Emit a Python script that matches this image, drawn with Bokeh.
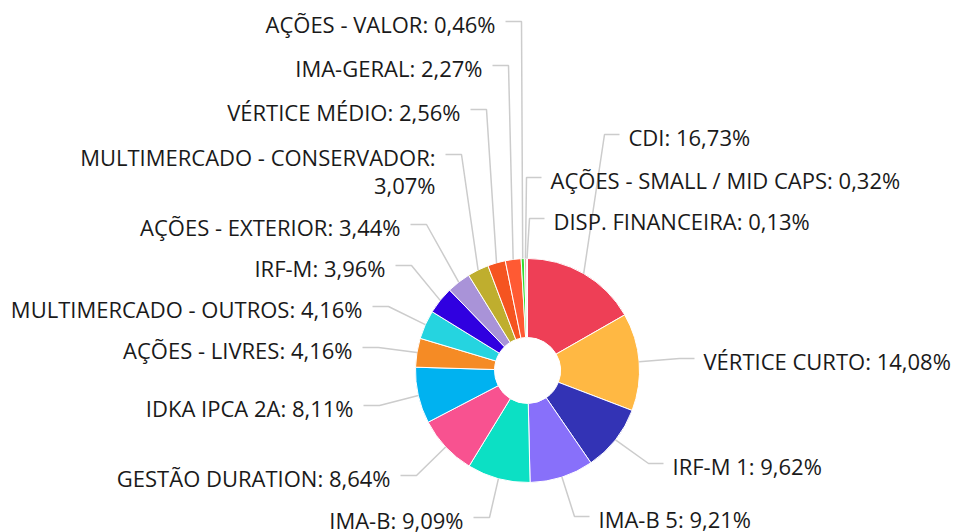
import math
from bokeh.plotting import figure
from bokeh.models import Range1d, ColumnDataSource
from bokeh.core.properties import value
from bokeh.embed import file_html
from bokeh.resources import INLINE

# ---------------- data ----------------
categories = [
    "CDI", "VÉRTICE CURTO", "IRF-M 1", "IMA-B 5", "IMA-B", "GESTÃO DURATION",
    "IDKA IPCA 2A", "AÇÕES - LIVRES", "MULTIMERCADO - OUTROS", "IRF-M",
    "AÇÕES - EXTERIOR", "MULTIMERCADO - CONSERVADOR", "VÉRTICE MÉDIO",
    "IMA-GERAL", "AÇÕES - VALOR", "AÇÕES - SMALL / MID CAPS", "DISP. FINANCEIRA",
]
shares = [16.73, 14.08, 9.62, 9.21, 9.09, 8.64, 8.11, 4.16, 4.16, 3.96,
          3.44, 3.07, 2.56, 2.27, 0.46, 0.32, 0.13]
colors = ["#EE3F56", "#FFB843", "#3333B5", "#8870FA", "#0CE0C4", "#F85290",
          "#00B2F0", "#F58B25", "#25D4E0", "#3000E0", "#A993D8", "#BFAE2E",
          "#F55420", "#FF5A33", "#33DD33", "#E0B0B0", "#C8C8C8"]

# ---------------- layout (screen px) ----------------
W, H = 954, 532
CX, CY = 527, 370
R_OUT, R_IN = 112, 33
FONT_PX = 22
LINE_GAP = 28
# label anchor: (side, x of text edge, y of connector)
# side 'r' = text starts at x, 'l' = text ends at x
label_pos = [
    ("r", 628, 134), ("r", 703, 358), ("r", 672, 463), ("r", 598, 516),
    ("l", 463, 517), ("l", 390, 475), ("l", 353, 405), ("l", 352, 347),
    ("l", 362, 306), ("l", 385, 265), ("l", 400, 224), ("l", 435, 154),
    ("l", 460, 109), ("l", 482, 65), ("l", 495, 21), ("r", 550, 177),
    ("r", 553, 218),
]
wrap = {"MULTIMERCADO - CONSERVADOR"}


def sy(y):
    return H - y


def pct(v):
    return f"{v:.2f}%".replace(".", ",")


p = figure(width=W, height=H, output_backend="svg", toolbar_location=None,
           x_range=Range1d(0, W), y_range=Range1d(0, H),
           min_border=0, outline_line_color=None)
p.axis.visible = False
p.grid.visible = False

total = sum(shares)
starts, ends, mids = [], [], []
cum = 0.0
for s in shares:
    a0 = cum / total
    cum += s
    a1 = cum / total
    starts.append(math.pi / 2 - 2 * math.pi * a0)
    ends.append(math.pi / 2 - 2 * math.pi * a1)
    mids.append((a0 + a1) / 2)

src = ColumnDataSource(dict(start=starts, end=ends, color=colors))
p.annular_wedge(x=CX, y=sy(CY), inner_radius=R_IN, outer_radius=R_OUT,
                start_angle="start", end_angle="end", direction="clock",
                fill_color="color", line_color="white", line_width=1,
                source=src)

xs, ys = [], []
tx, ty, tt, ta = [], [], [], []
for cat, s, m, (side, lx, ly) in zip(categories, shares, mids, label_pos):
    ang = 2 * math.pi * m
    px = CX + R_OUT * math.sin(ang)
    py = CY - R_OUT * math.cos(ang)
    if side == "r":
        elbow, end = lx - 24, lx - 9
    else:
        elbow, end = lx + 26, lx + 10
    xs.append([px, elbow, end])
    ys.append([sy(py), sy(ly), sy(ly)])
    if cat in wrap:
        lines = [cat + ":", pct(s)]
    else:
        lines = [f"{cat}: {pct(s)}"]
    for i, t in enumerate(lines):
        tx.append(lx)
        ty.append(sy(ly + 2 + i * LINE_GAP))
        tt.append(t)
        ta.append("left" if side == "r" else "right")

p.multi_line(xs=xs, ys=ys, line_color="#CCCCCC", line_width=1.5)
p.text(x=tx, y=ty, text=tt, text_align=ta, text_baseline="middle",
       text_font=value("Open Sans"), text_font_size=f"{FONT_PX}px",
       text_color="#1A1A1A")

open("out.html", "w").write(file_html(p, INLINE))
